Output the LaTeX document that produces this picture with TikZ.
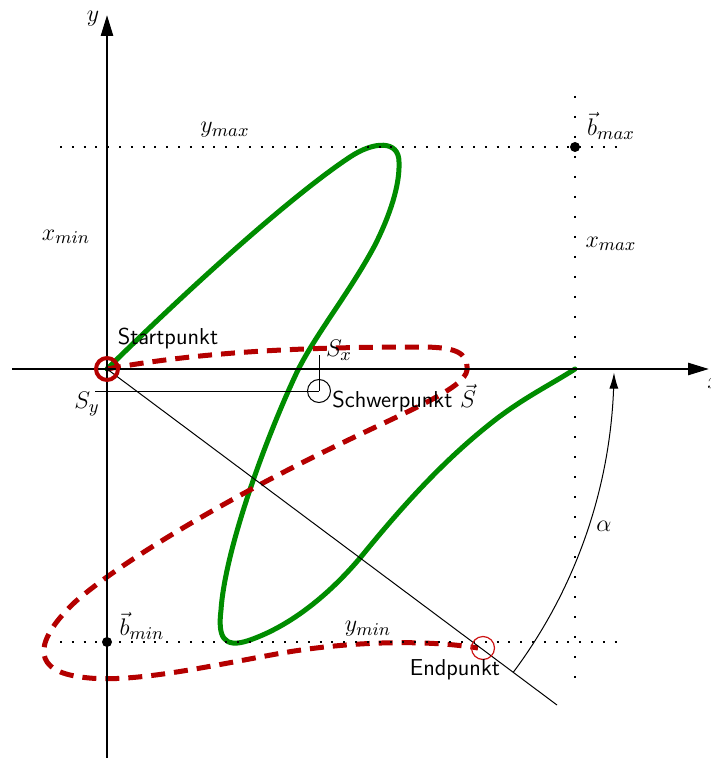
\documentclass[tikz,border=0pt]{standalone}
\usetikzlibrary{arrows.meta}
\definecolor{kgreen}{RGB}{0,140,0}
\definecolor{kred}{RGB}{180,0,0}
\definecolor{ered}{RGB}{205,20,20}
\begin{document}
\begin{tikzpicture}[x=0.5pt,y=-0.5pt,
  axis/.style={line width=1.3pt,-{Triangle[length=10.5pt,width=6pt]}},
  dotsh/.style={line width=1pt,dash pattern=on 1pt off 4.9pt},
  dotsv/.style={line width=1pt,dash pattern=on 1pt off 9pt},
  thinline/.style={line width=0.5pt},
  lab/.style={inner sep=0pt,font=\fontsize{13}{15}\selectfont},
  txt/.style={inner sep=0pt,font=\fontsize{11.5}{13}\selectfont\sffamily},
  gcurve/.style={kgreen,line width=2.5pt,line cap=round,line join=round},
  rcurve/.style={kred,line width=2.5pt,dash pattern=on 7pt off 4.5pt},
  dotpt/.style={circle,fill=black,inner sep=0pt,minimum size=5pt}
]
\useasboundingbox (0,0) rectangle (710,758);
% coordinates
\coordinate (O) at (107,369);
\coordinate (xs) at (12,369);
\coordinate (xe) at (709,369);
\coordinate (ys) at (107,758);
\coordinate (ye) at (107,15);
\coordinate (tl) at (60,147);
\coordinate (tr) at (622,147);
\coordinate (bl) at (60,642);
\coordinate (br) at (622,642);
\coordinate (vt) at (575,96);
\coordinate (vb) at (575,686);
\coordinate (de) at (557,705);
\coordinate (sy) at (95,391);
\coordinate (sx) at (319,355);
\coordinate (xm) at (575,369);
\coordinate (en) at (478,648);
% green curve
\draw[gcurve] (O) .. controls (210,268) and (300,190) .. (350,157)
  .. controls (374,141) and (399,140) .. (399,162)
  .. controls (400,185) and (390,215) .. (375,245)
  .. controls (350,292) and (315,335) .. (297,372)
  .. controls (265,440) and (225,550) .. (221,610)
  .. controls (218,635) and (222,650) .. (250,640)
  .. controls (290,626) and (330,595) .. (365,552)
  .. controls (410,497) and (450,455) .. (495,420)
  .. controls (525,397) and (550,385) .. (xm);
% red dashed curve
\draw[rcurve] (O) .. controls (200,352) and (300,347) .. (420,347)
  .. controls (455,347) and (468,352) .. (467,370)
  .. controls (465,388) and (410,410) .. (340,444)
  .. controls (240,492) and (125,558) .. (75,602)
  .. controls (37,638) and (30,668) .. (75,676)
  .. controls (120,685) and (190,670) .. (271,655)
  .. controls (350,640) and (430,640) .. (en);
% dotted guides
\draw[dotsh] (tl) -- (tr);
\draw[dotsh] (bl) -- (br);
\draw[dotsv] (vt) -- (vb);
% axes
\draw[axis] (xs) -- (xe);
\draw[axis] (ys) -- (ye);
% points
\node[dotpt] (bmax) at (575,147) {};
\node[dotpt] (bmin) at (107,642) {};
% centroid
\node[circle,draw,thinline,minimum size=11.5pt,inner sep=0pt] (S) at (319,391) {};
\draw[thinline] (sy) -- (S.center);
\draw[thinline] (sx) -- (S.center);
% diagonal and angle
\draw[thinline] (O) -- (de);
\draw[thinline,-{Latex[length=8pt,width=4.5pt]}] plot[domain=36.7:0.4,samples=80,variable=\t] ({107+507*cos(\t)},{369+507*sin(\t)});
% start / end markers
\node[circle,draw=kred,line width=2pt,minimum size=11pt,inner sep=0pt] (start) at (O) {};
\node[circle,draw=ered,line width=0.6pt,minimum size=11.5pt,inner sep=0pt] (E) at (483,648) {};
% labels
\node[lab] (ylab) at (93,19) {$y$};
\node[lab] (xlab) at (714,383) {$x$};
\node[lab] (ymaxl) at (225,130) {$y_{max}$};
\node[lab] (bmaxl) at (611,126) {$\vec{b}_{max}$};
\node[lab] (xmaxl) at (611,244) {$x_{max}$};
\node[lab] (xminl) at (66,237) {$x_{min}$};
\node[txt] (st) at (168,339) {Startpunkt};
\node[lab] (sxl) at (339,350) {$S_x$};
\node[lab] (syl) at (87,404) {$S_y$};
\node[txt,anchor=west] (swl) at (332,398) {Schwerpunkt $\vec{S}$};
\node[lab] (bminl) at (142,626) {$\vec{b}_{min}$};
\node[lab] (yminl) at (368,629) {$y_{min}$};
\node[txt] (ep) at (455,670) {Endpunkt};
\node[lab] (al) at (604,526) {$\alpha$};
\end{tikzpicture}
\end{document}
